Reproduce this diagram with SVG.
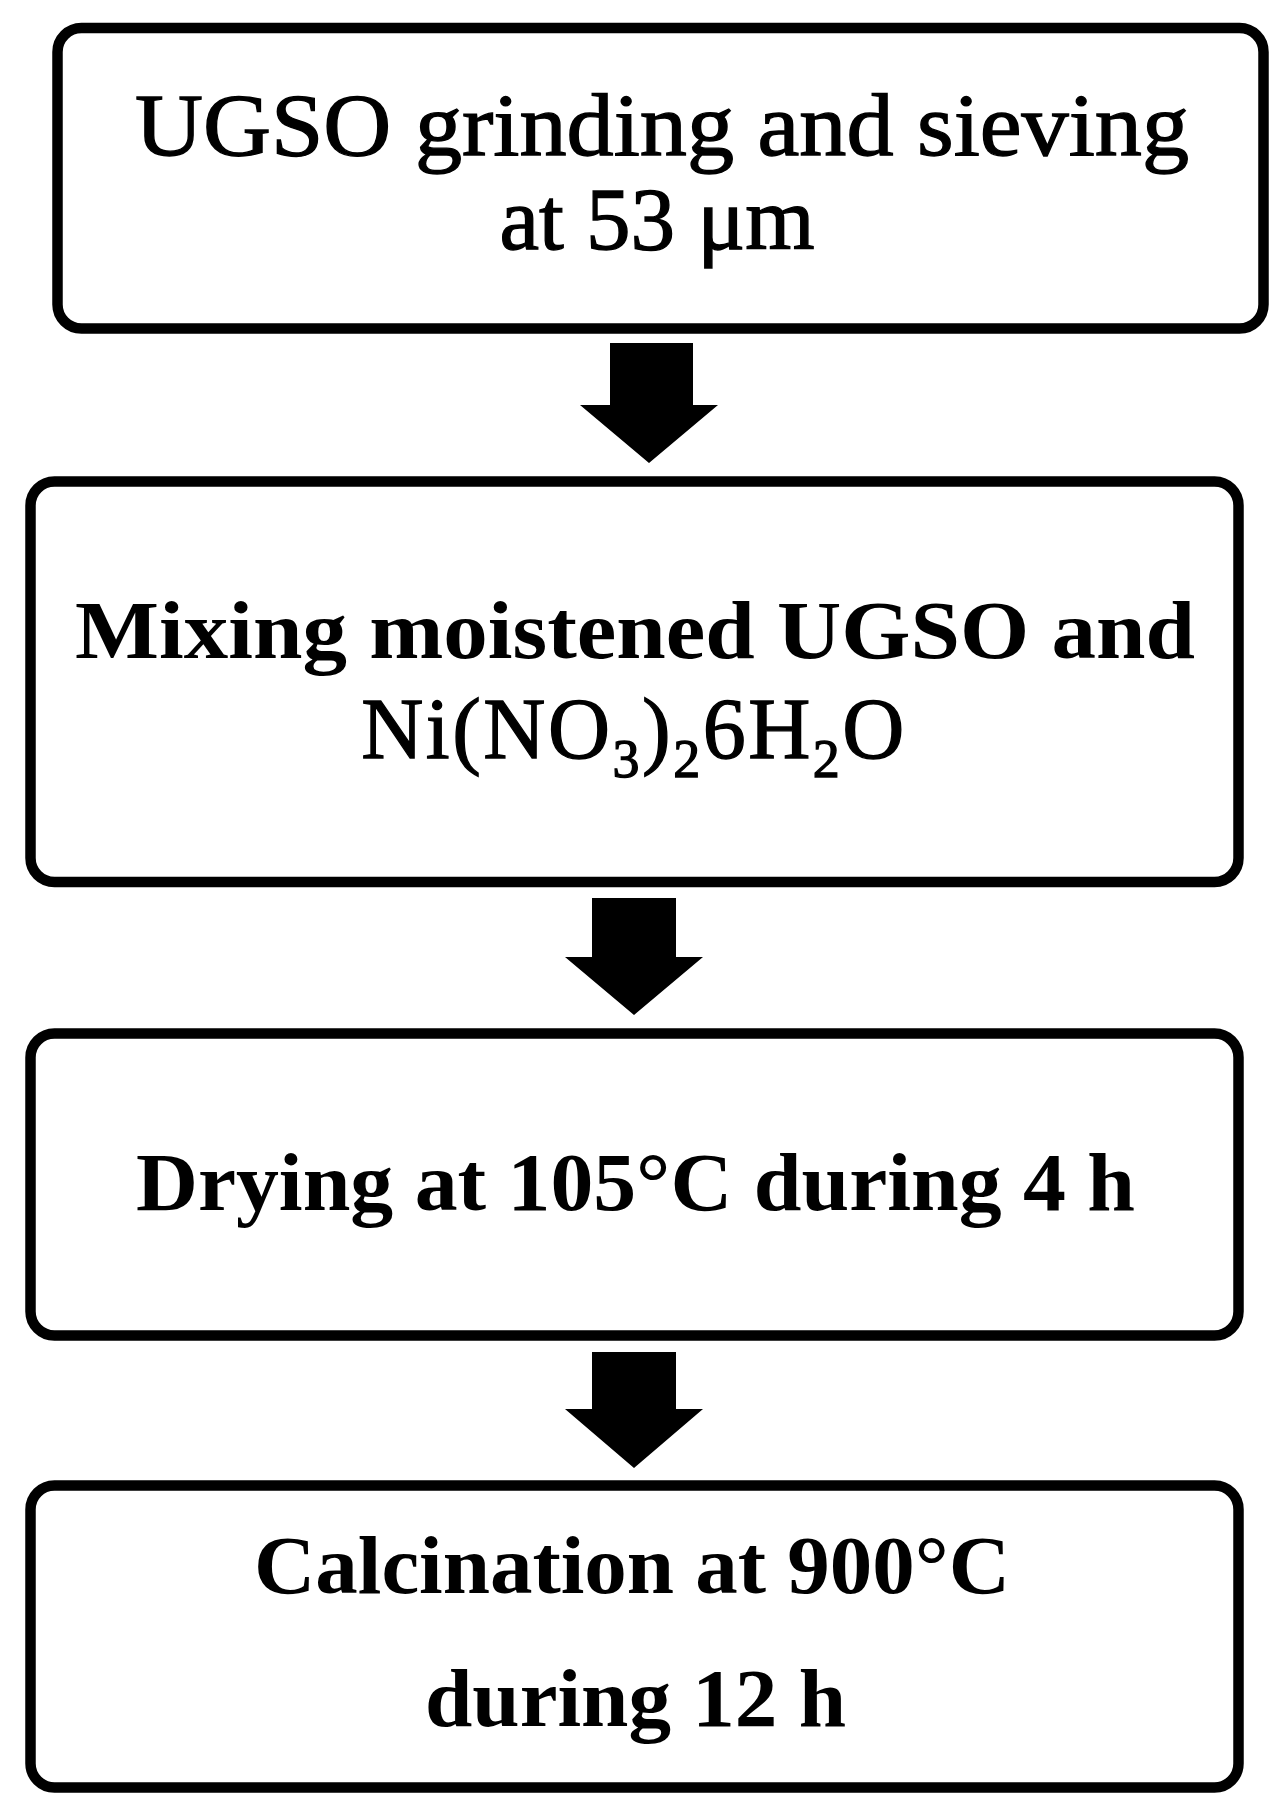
<svg xmlns="http://www.w3.org/2000/svg" width="1284" height="1811" viewBox="0 0 1284 1811">
<style>
.box{fill:#fff;stroke:#000;stroke-width:10.5}
.t{font-family:"Liberation Serif","Times New Roman",serif;fill:#000;text-anchor:middle}
.r{font-weight:normal;stroke:#000;stroke-width:1.3}
.b{font-weight:bold}
.arrow{fill:#000;stroke:none}
</style>
<rect width="1284" height="1811" fill="#fff"/>
<g id="connectors">
<polygon class="arrow" points="610,343 693,343 693,405 718,405 649,463 580,405 610,405"/>
<polygon class="arrow" points="592,898 676,898 676,957 703,957 634,1015 565,957 592,957"/>
<polygon class="arrow" points="592,1352 676,1352 676,1409 703,1409 634,1468 565,1409 592,1409"/>
</g>
<g id="node1">
<rect class="box" x="57.5" y="28" width="1206" height="300.5" rx="24"/>
<text class="t r" x="662" y="155" font-size="88" textLength="1054" lengthAdjust="spacingAndGlyphs">UGSO grinding and sieving</text>
<text class="t r" x="657" y="249" font-size="88" textLength="315" lengthAdjust="spacingAndGlyphs">at 53 μm</text>
</g>
<g id="node2">
<rect class="box" x="30.5" y="481.5" width="1208" height="400.5" rx="24"/>
<text class="t b" x="635" y="658" font-size="82" textLength="1120" lengthAdjust="spacingAndGlyphs">Mixing moistened UGSO and</text>
<text class="t r" x="634" y="758" font-size="86" letter-spacing="2.5">Ni(NO<tspan font-size="54" dy="19">3</tspan><tspan dy="-19">)</tspan><tspan font-size="54" dy="19">2</tspan><tspan dy="-19">6H</tspan><tspan font-size="54" dy="19">2</tspan><tspan dy="-19">O</tspan></text>
</g>
<g id="node3">
<rect class="box" x="30.5" y="1033.5" width="1208" height="302" rx="24"/>
<text class="t b" x="635.5" y="1210" font-size="82" textLength="999" lengthAdjust="spacingAndGlyphs">Drying at 105°C during 4 h</text>
</g>
<g id="node4">
<rect class="box" x="30.5" y="1485.5" width="1208" height="302" rx="24"/>
<text class="t b" x="632" y="1593" font-size="82" textLength="756" lengthAdjust="spacingAndGlyphs">Calcination at 900°C</text>
<text class="t b" x="635.5" y="1726" font-size="82" textLength="421" lengthAdjust="spacingAndGlyphs">during 12 h</text>
</g>
</svg>
